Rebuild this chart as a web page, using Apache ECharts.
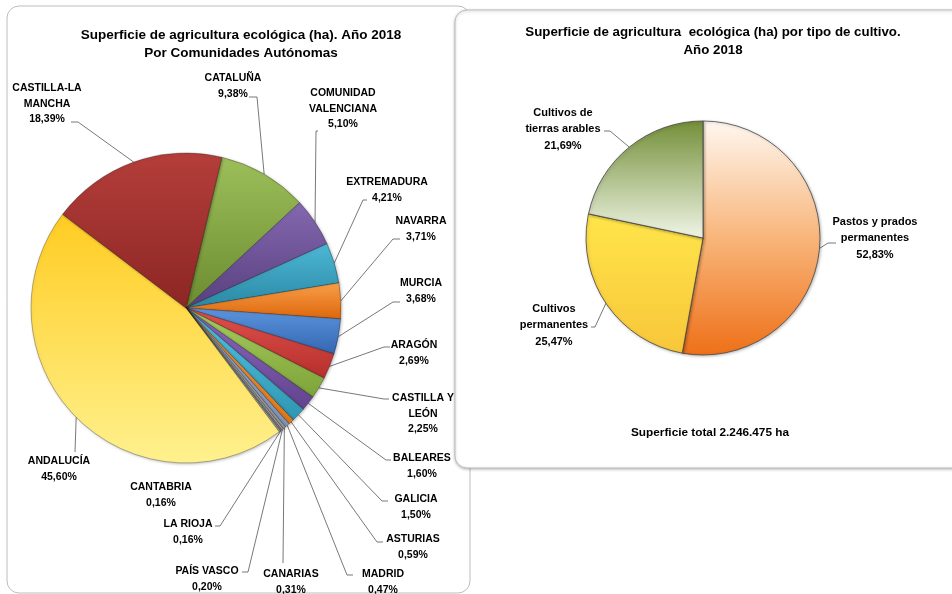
<!DOCTYPE html>
<html><head><meta charset="utf-8">
<script src="https://cdn.jsdelivr.net/npm/echarts@6/dist/echarts.min.js"></script>
<style>html,body{margin:0;padding:0;background:#fff}#c{width:952px;height:594px}</style>
</head><body><div id="c"></div>
<script>
// ---- data ----
var regions = ['CATALUÑA','COMUNIDAD\nVALENCIANA','EXTREMADURA','NAVARRA','MURCIA','ARAGÓN','CASTILLA Y\nLEÓN','BALEARES','GALICIA','ASTURIAS','MADRID','CANARIAS','PAÍS VASCO','LA RIOJA','CANTABRIA','ANDALUCÍA','CASTILLA-LA\nMANCHA'];
var regionShares = [9.38,5.10,4.21,3.71,3.68,2.69,2.25,1.60,1.50,0.59,0.47,0.31,0.20,0.16,0.16,45.60,18.39];
var cropTypes = ['Pastos y prados\npermanentes','Cultivos\npermanentes','Cultivos de\ntierras arables'];
var cropShares = [52.83,25.47,21.69];
var leftTitle = 'Superficie de agricultura ecológica (ha). Año 2018\nPor Comunidades Autónomas';
var rightTitle = 'Superficie de agricultura  ecológica (ha) por tipo de cultivo.\nAño 2018';
var totalText = 'Superficie total 2.246.475 ha';

// ---- styles / layout (not data) ----
var regionColors = [
 ['#9CBF5A','#6C8C30'],['#8468B0','#58407F'],['#4DB8D6','#2A88A4'],['#F9A04A','#DD660B'],
 ['#5C95DE','#3366B0'],['#E2524E','#B52E2B'],['#A8CE60','#7DA238'],['#8C6AC2','#62438D'],
 ['#58C4E1','#2D96B3'],['#F9A04A','#E27716'],['#A9BCD8','#7F97BE'],['#C8C8C8','#989898'],
 ['#D8D8D8','#ABABAB'],['#BEBEBE','#8F8F8F'],['#DCDCDC','#B0B0B0'],['#FFCC22','#FFF18E'],['#B43E3A','#8C2624']
];
var cropColors = [
 [[0,'#FFF7F0'],[0.5,'#F8B57A'],[1,'#EE7018']],
 [[0,'#FFE54A'],[1,'#F8C63A']],
 [[0,'#738F38'],[1,'#F0F5E6']]
];
// [labelCenterX, labelCenterY, lineEndX, lineEndY, bendX, bendY]
var leftLabelPos = [
 [233, 86, 249, 97, 257, 97],
 [343, 109, 318, 131, 316, 131],
 [387, 190, 367, 200, 363, 200],
 [421, 229, 400, 239, 393, 239],
 [421, 291, 400, 302, 393, 302],
 [414, 353, 390, 347, 384, 347],
 [423, 414, 389, 399, 384, 399],
 [422, 466, 391, 460, 386, 460],
 [416, 507, 388, 501, 382, 501],
 [413, 547, 383, 542, 377, 542],
 [383, 582, 353, 575, 347, 575],
 [291, 582, 283, 563, 283, 563],
 [207, 579, 242, 572, 248, 572],
 [188, 532, 215, 526, 220, 526],
 [161, 495],
 [59, 469, 75, 452, 75, 452],
 [47, 104, 71, 122, 78, 122]
];
var rightLabelPos = [
 [875, 238, 836, 243, 828, 243],
 [554, 325, 591, 327, 595, 327],
 [563, 129, 604, 131, 610, 131]
];

function pct(v){ return v.toFixed(2).replace('.', ',') + '%'; }
function grad(stops){
  return {type:'linear', x:0, y:0, x2:0, y2:1, colorStops: stops.map(function(s){return {offset:s[0], color:s[1]};})};
}
function layoutFn(pos){
  return function(p){
    var L = pos[p.dataIndex];
    var r = {x: L[0], y: L[1], align: 'center', verticalAlign: 'middle'};
    if (L.length > 2 && p.labelLinePoints) {
      r.labelLinePoints = [p.labelLinePoints[0], [L[4], L[5]], [L[2], L[3]]];
    }
    return r;
  };
}

var leftData = regions.map(function(n, i){
  var c = regionColors[i];
  var d = {name: n, value: regionShares[i],
    itemStyle: {color: grad([[0,c[0]],[1,c[1]]])}};
  if (leftLabelPos[i].length <= 2) d.labelLine = {show: false};
  return d;
});
var rightData = cropTypes.map(function(n, i){
  return {name: n, value: cropShares[i], itemStyle: {color: grad(cropColors[i])}};
});

var chart = echarts.init(document.getElementById('c'), null, {renderer: 'canvas'});
chart.setOption({
  animation: false,
  backgroundColor: '#fff',
  title: [
    {text: leftTitle, left: 236, top: 21, textAlign: 'center',
     textStyle: {fontFamily: 'Liberation Sans', fontWeight: 'bold', fontSize: 13.5, lineHeight: 18, color: '#000'}},
    {text: rightTitle, left: 708, top: 18, textAlign: 'center',
     textStyle: {fontFamily: 'Liberation Sans', fontWeight: 'bold', fontSize: 13.3, lineHeight: 18, color: '#000'}}
  ],
  graphic: [
    {type: 'rect', z: -10, shape: {x: 7, y: 6, width: 463, height: 587, r: 12},
     style: {fill: '#fff', stroke: '#BDBDBD', lineWidth: 1}},
    {type: 'rect', z: -5, shape: {x: 455, y: 10, width: 520, height: 458, r: 12},
     style: {fill: '#fff', stroke: '#BDBDBD', lineWidth: 1, shadowBlur: 3, shadowColor: 'rgba(0,0,0,0.25)', shadowOffsetY: 1}},
    {type: 'text', z: 5, style: {text: totalText, x: 710, y: 433, textAlign: 'center', textVerticalAlign: 'middle',
     font: 'bold 11.8px "Liberation Sans"', fill: '#000'}}
  ],
  series: [
    {
      type: 'pie', center: [186, 308], radius: 155, startAngle: 76.6, clockwise: true,
      avoidLabelOverlap: false, silent: true,
      itemStyle: {borderColor: 'rgba(0,0,0,0.35)', borderWidth: 0.8, shadowBlur: 3, shadowColor: 'rgba(0,0,0,0.25)', shadowOffsetX: 1, shadowOffsetY: 1},
      label: {show: true, position: 'outside', lineHeight: 15.5,
        fontFamily: 'Liberation Sans', fontWeight: 'bold', fontSize: 10.5, color: '#000',
        formatter: function(p){ return p.name + '\n' + pct(p.value); }},
      labelLine: {show: true, length: 6, length2: 6, lineStyle: {color: '#555', width: 0.8}},
      labelLayout: layoutFn(leftLabelPos),
      data: leftData
    },
    {
      type: 'pie', center: [703, 238], radius: 117, startAngle: 90, clockwise: true,
      avoidLabelOverlap: false, silent: true,
      itemStyle: {borderColor: 'rgba(70,70,70,0.8)', borderWidth: 1, shadowBlur: 3, shadowColor: 'rgba(0,0,0,0.25)', shadowOffsetX: 1, shadowOffsetY: 1},
      label: {show: true, position: 'outside', lineHeight: 16.5,
        fontFamily: 'Liberation Sans', fontWeight: 'bold', fontSize: 11, color: '#000',
        formatter: function(p){ return p.name + '\n' + pct(p.value); }},
      labelLine: {show: true, length: 6, length2: 6, lineStyle: {color: '#555', width: 0.8}},
      labelLayout: layoutFn(rightLabelPos),
      data: rightData
    }
  ]
});
</script></body></html>
